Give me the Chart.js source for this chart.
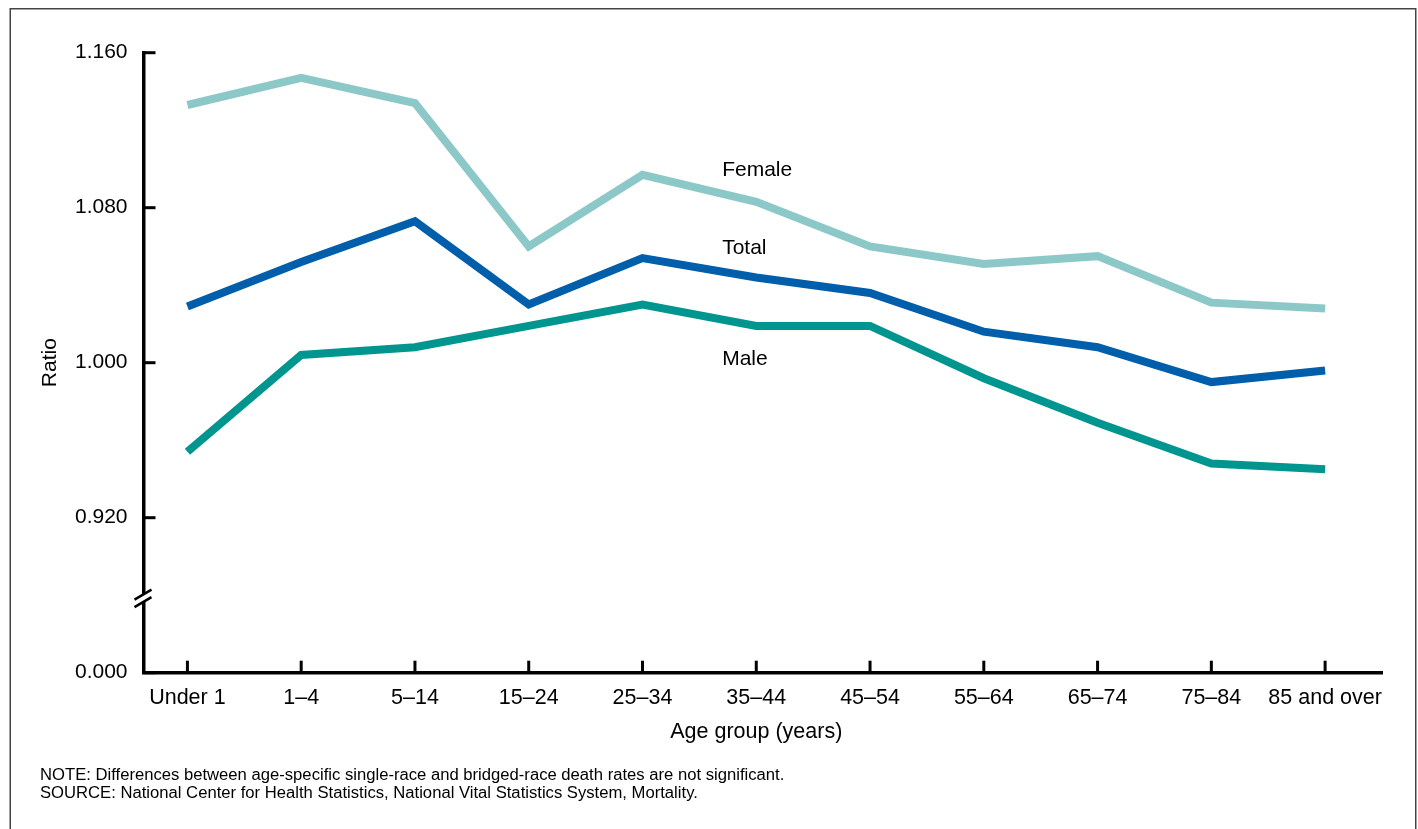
<!DOCTYPE html>
<html lang="en">
<head>
<meta charset="UTF-8">
<title>Ratio of single-race to bridged-race death rates by age group</title>
<script src="https://cdn.jsdelivr.net/npm/chart.js"></script>
<style>
    html, body {
        margin: 0;
        padding: 0;
        background: #ffffff;
    }
    #wrap {
        position: relative;
        width: 1418px;
        height: 829px;
        overflow: hidden;
    }
    #notes {
        position: absolute;
        left: 40px;
        top: 765.5px;
        font-family: "Liberation Sans", Arial, sans-serif;
        font-size: 16.65px;
        line-height: 18.6px;
        color: #000;
    }
</style>
</head>
<body>
<div id="wrap">
    <canvas id="ratioChart" width="1418" height="829"></canvas>
    <div id="notes">
        <div>NOTE: Differences between age-specific single-race and bridged-race death rates are not significant.</div>
        <div>SOURCE: National Center for Health Statistics, National Vital Statistics System, Mortality.</div>
    </div>
</div>

<script>
    // data
    const ageGroups = ['Under 1', '1\u20134', '5\u201314', '15\u201324', '25\u201334', '35\u201344',
        '45\u201354', '55\u201364', '65\u201374', '75\u201384', '85 and over'];
    const female = [1.133, 1.147, 1.134, 1.060, 1.097, 1.083, 1.060, 1.051, 1.055, 1.031, 1.028];
    const total = [1.029, 1.052, 1.073, 1.030, 1.054, 1.044, 1.036, 1.016, 1.008, 0.990, 0.996];
    const male = [0.954, 1.004, 1.008, 1.019, 1.030, 1.019, 1.019, 0.992, 0.969, 0.948, 0.945];

    // y axis is broken: the bottom tick stands for zero
    const yTickValues = [0.84, 0.92, 1.00, 1.08, 1.16];
    const yTickLabels = ['0.000', '0.920', '1.000', '1.080', '1.160'];
    const yBreakAt = 0.880;

    // series labels, placed in axis units
    const seriesLabels = [
        { text: 'Female', x: 4.70, y: 1.0964 },
        { text: 'Total', x: 4.70, y: 1.0562 },
        { text: 'Male', x: 4.70, y: 0.9990 }
    ];
    const xTitle = 'Age group (years)';

    const FONT = '"Liberation Sans", Arial, sans-serif';
    const toPoints = arr => arr.map((v, i) => ({ x: i, y: v }));

    const axisExtras = {
        id: 'axisExtras',
        beforeDraw(chart) {
            const ctx = chart.ctx;
            ctx.save();
            ctx.strokeStyle = '#444';
            ctx.lineWidth = 1.5;
            ctx.strokeRect(10.25, 8.75, 1405.5, 900);
            ctx.restore();
        },
        afterDraw(chart) {
            const ctx = chart.ctx;
            const xs = chart.scales.x;
            const ys = chart.scales.y;
            const area = chart.chartArea;
            ctx.save();
            ctx.strokeStyle = '#000';
            ctx.lineWidth = 3;
            ctx.lineCap = 'butt';

            // inward tick marks
            ys.ticks.forEach(t => {
                const py = ys.getPixelForValue(t.value);
                ctx.beginPath();
                ctx.moveTo(area.left, py);
                ctx.lineTo(area.left + 12, py);
                ctx.stroke();
            });
            xs.ticks.forEach(t => {
                const px = xs.getPixelForValue(t.value);
                ctx.beginPath();
                ctx.moveTo(px, area.bottom);
                ctx.lineTo(px, area.bottom - 12);
                ctx.stroke();
            });

            // axis break
            const by = ys.getPixelForValue(yBreakAt);
            const bx = area.left;
            ctx.fillStyle = '#fff';
            ctx.beginPath();
            ctx.moveTo(bx - 9, by + 4.5);
            ctx.lineTo(bx + 8, by - 5.5);
            ctx.lineTo(bx + 8, by + 2);
            ctx.lineTo(bx - 9, by + 12);
            ctx.closePath();
            ctx.fill();
            ctx.lineWidth = 2.5;
            ctx.beginPath();
            ctx.moveTo(bx - 9, by + 4.5);
            ctx.lineTo(bx + 8, by - 5.5);
            ctx.moveTo(bx - 9, by + 12);
            ctx.lineTo(bx + 8, by + 2);
            ctx.stroke();

            // series labels
            ctx.fillStyle = '#000';
            ctx.font = '21px ' + FONT;
            ctx.textAlign = 'left';
            ctx.textBaseline = 'alphabetic';
            seriesLabels.forEach(l => {
                ctx.fillText(l.text, xs.getPixelForValue(l.x), ys.getPixelForValue(l.y));
            });

            // x axis title, centred under the categories
            const mid = (xs.getPixelForValue(0) + xs.getPixelForValue(ageGroups.length - 1)) / 2;
            ctx.font = '21.5px ' + FONT;
            ctx.textAlign = 'center';
            ctx.fillText(xTitle, mid, area.bottom + 64.8);
            ctx.restore();
        }
    };

    new Chart(document.getElementById('ratioChart'), {
        type: 'line',
        data: {
            datasets: [
                { label: 'Female', data: toPoints(female), borderColor: '#8dc8c8' },
                { label: 'Total', data: toPoints(total), borderColor: '#005eaa' },
                { label: 'Male', data: toPoints(male), borderColor: '#00968f' }
            ]
        },
        options: {
            responsive: false,
            animation: false,
            events: [],
            datasets: {
                line: {
                    borderWidth: 8,
                    pointRadius: 0,
                    tension: 0,
                    fill: false,
                    borderJoinStyle: 'miter',
                    borderCapStyle: 'butt'
                }
            },
            layout: { padding: { left: 33, right: 36, top: 52.7, bottom: 80 } },
            plugins: {
                legend: { display: false },
                tooltip: { enabled: false }
            },
            scales: {
                x: {
                    type: 'linear',
                    min: -0.386,
                    max: 10.5,
                    afterBuildTicks: scale => { scale.ticks = ageGroups.map((_, i) => ({ value: i })); },
                    afterFit: scale => { scale.height = 76.3; },
                    grid: { drawOnChartArea: false, drawTicks: false },
                    border: { display: true, color: '#000', width: 3.5 },
                    ticks: {
                        color: '#000',
                        font: { family: FONT, size: 21.5 },
                        padding: 12,
                        maxRotation: 0,
                        autoSkip: false,
                        callback: v => ageGroups[v]
                    },
                    title: { display: false }
                },
                y: {
                    min: yTickValues[0],
                    max: yTickValues[yTickValues.length - 1],
                    afterBuildTicks: scale => { scale.ticks = yTickValues.map(v => ({ value: v })); },
                    afterFit: scale => { scale.width = 110.5; },
                    grid: { drawOnChartArea: false, drawTicks: false },
                    border: { display: true, color: '#000', width: 3.5 },
                    ticks: {
                        color: '#000',
                        font: { family: FONT, size: 21 },
                        padding: 16,
                        callback: (v, i) => yTickLabels[i]
                    },
                    title: {
                        display: true,
                        text: 'Ratio',
                        color: '#000',
                        font: { family: FONT, size: 21 },
                        padding: { top: 5, bottom: 0 }
                    }
                }
            }
        },
        plugins: [axisExtras]
    });
</script>
</body>
</html>
